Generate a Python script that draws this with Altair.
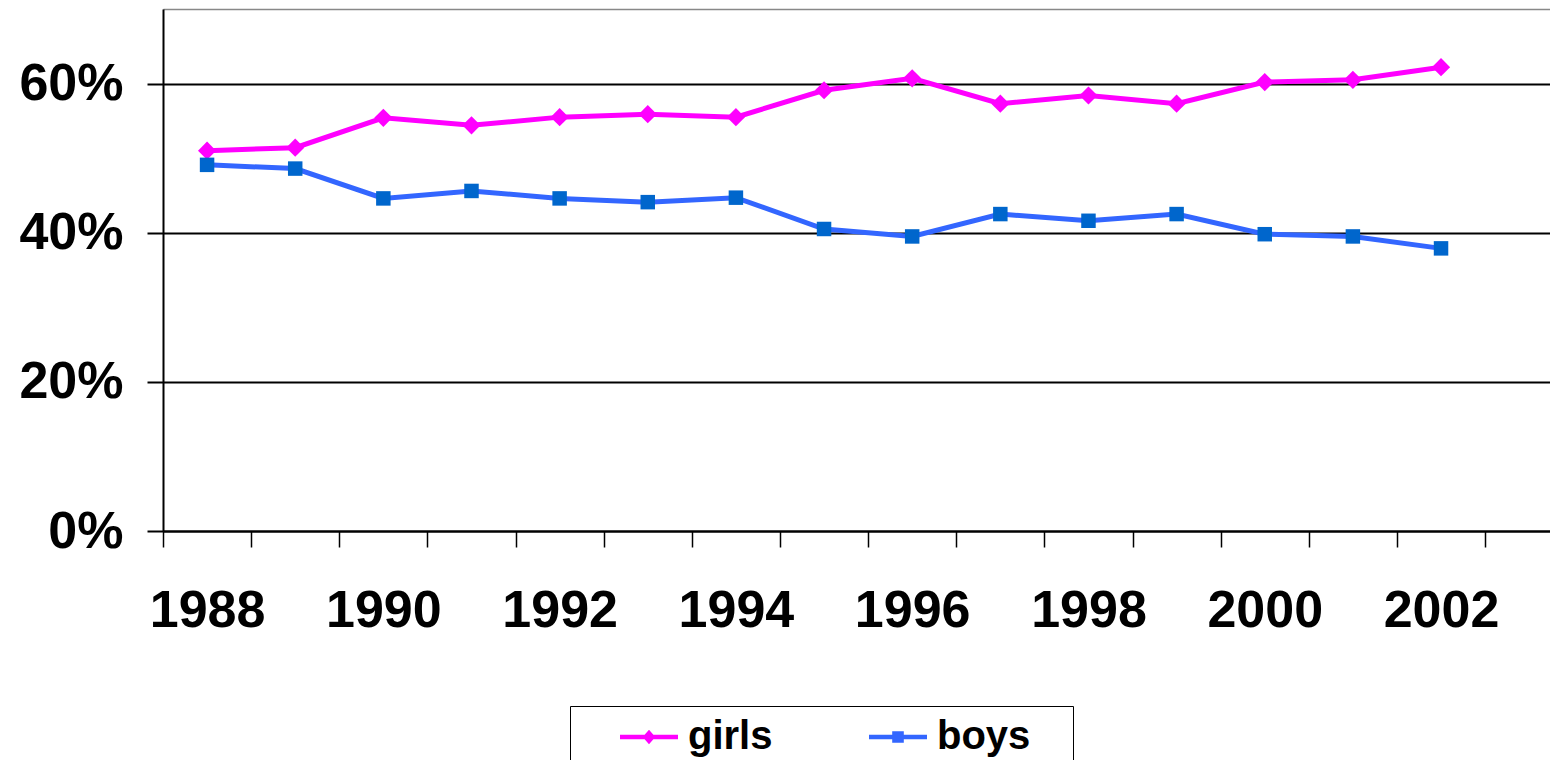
import altair as alt
import pandas as pd

years = list(range(1988, 2003))
girls = [51.0, 51.4, 55.4, 54.4, 55.5, 55.9, 55.5, 59.1, 60.7, 57.3, 58.4, 57.3, 60.2, 60.5, 62.2]
boys = [49.1, 48.6, 44.6, 45.6, 44.6, 44.1, 44.7, 40.5, 39.5, 42.5, 41.6, 42.5, 39.8, 39.5, 37.9]
series_names = ["girls", "boys"]
y_ticks = [0, 0.2, 0.4, 0.6]
x_tick_marks = [y - 0.5 for y in range(1988, 2004)]
x_labels = list(range(1988, 2003, 2))

rows = []
for name, vals in zip(series_names, [girls, boys]):
    for yr, v in zip(years, vals):
        rows.append({"year": yr, "pct": v / 100.0, "series": name})
df = pd.DataFrame(rows)

FONT = "Liberation Sans"
W, H = 1387, 522
BAND = 88.14
x_dom = [1987.5, 1987.5 + W / BAND]

xscale = alt.Scale(domain=x_dom, nice=False, zero=False)
yscale = alt.Scale(domain=[0, 0.7], nice=False, zero=True)

x_ticks_axis = alt.Axis(
    values=x_tick_marks, title=None, grid=False, labels=False,
    domainColor="black", domainWidth=2,
    tickColor="black", tickWidth=1.5, tickSize=16, orient="bottom",
)
x_label_axis = alt.Axis(
    values=x_labels, title=None, grid=False, ticks=False, tickSize=0, domain=False,
    format="d", labelOverlap=False, labelFlush=False, labelBound=False,
    labelFont=FONT, labelFontSize=52, labelFontWeight="bold", labelColor="black",
    labelPadding=54, orient="bottom",
)
x_top = alt.Axis(
    orient="top", title=None, grid=False, labels=False, ticks=False,
    domainColor="#888888", domainWidth=1.5,
)
y_axis = alt.Axis(
    values=y_ticks, format=".0%", title=None, grid=True,
    gridColor="black", gridWidth=2, gridOpacity=1,
    domainColor="black", domainWidth=2,
    tickColor="black", tickWidth=2, tickSize=16,
    labelFont=FONT, labelFontSize=52, labelFontWeight="bold", labelColor="black",
    labelPadding=24, labelBaseline="middle",
)

base = alt.Chart(df)

line_g = base.transform_filter(alt.datum.series == "girls").mark_line(
    color="#FF00FF", strokeWidth=5
).encode(
    x=alt.X("year:Q", scale=xscale, axis=x_ticks_axis),
    y=alt.Y("pct:Q", scale=yscale, axis=y_axis),
)
line_b = base.transform_filter(alt.datum.series == "boys").mark_line(
    color="#3366FF", strokeWidth=5
).encode(
    x=alt.X("year:Q", scale=xscale, axis=x_label_axis),
    y=alt.Y("pct:Q", scale=yscale, axis=y_axis),
)
pts_g = base.transform_filter(alt.datum.series == "girls").mark_point(
    shape="diamond", filled=True, color="#FF00FF", size=330, opacity=1
).encode(
    x=alt.X("year:Q", scale=xscale, axis=x_top),
    y=alt.Y("pct:Q", scale=yscale, axis=y_axis),
)
pts_b = base.transform_filter(alt.datum.series == "boys").mark_point(
    shape="square", filled=True, color="#0066CC", size=210, opacity=1
).encode(
    x=alt.X("year:Q", scale=xscale, axis=None),
    y=alt.Y("pct:Q", scale=yscale, axis=y_axis),
)

girls_sym = "M-1,-0.08 L1,-0.08 L1,0.08 L-1,0.08 Z M0,-0.25 L0.22,0 L0,0.25 L-0.22,0 Z"
boys_sym = "M-1,-0.08 L1,-0.08 L1,0.08 L-1,0.08 Z M-0.2,-0.2 L0.2,-0.2 L0.2,0.2 L-0.2,0.2 Z"

leg = dict(
    title="\u00a0", titleOrient="right", titleFont=FONT,
    titleFontSize=70, titlePadding=41, titleAnchor="start", titleBaseline="top",
    orient="none", legendX=407, legendY=697, direction="horizontal",
    labelFont=FONT, labelFontSize=40, labelFontWeight="bold", labelColor="black",
    symbolSize=3364, symbolStrokeWidth=0, symbolOpacity=1,
    symbolOffset=48, labelOffset=10, columnPadding=48, padding=2,
    strokeColor="black", labelLimit=400,
)

legend_layer = base.transform_filter("false").mark_point(filled=True, size=3364, opacity=1).encode(
    x=alt.X("year:Q", scale=xscale, axis=None),
    y=alt.Y("pct:Q", scale=yscale, axis=y_axis),
    shape=alt.Shape("series:N", scale=alt.Scale(domain=series_names, range=[girls_sym, boys_sym]),
                    legend=alt.Legend(**leg)),
    color=alt.Color("series:N", scale=alt.Scale(domain=series_names, range=["#FF00FF", "#3366FF"]),
                    legend=alt.Legend(**leg)),
)

chart = alt.layer(line_g, line_b, pts_g, pts_b, legend_layer).resolve_axis(
    x="independent"
).properties(
    width=W, height=H,
    autosize=alt.AutoSizeParams(type="none"),
    padding={"left": 155, "top": 1, "right": 0, "bottom": 752 - 1 - H},
).configure_view(stroke=None).configure(background="white")

chart.save("out.html", embed_options={"renderer": "svg", "actions": False})
